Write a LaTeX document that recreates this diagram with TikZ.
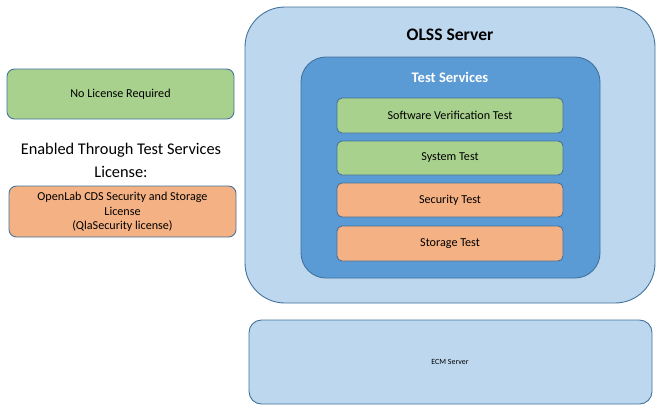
\documentclass[tikz,border=0pt]{standalone}
\usepackage{fontspec}
\setmainfont{Carlito}
\definecolor{lb}{HTML}{BDD7EE}
\definecolor{mb}{HTML}{5B9BD5}
\definecolor{bd}{HTML}{41719C}
\definecolor{gr}{HTML}{A9D18E}
\definecolor{og}{HTML}{F4B183}
\begin{document}
\begin{tikzpicture}[x=0.02cm,y=-0.02cm,
 box/.style={draw=bd,line width=0.5pt},
 t/.style={font=\fontsize{6.9}{8.2}\selectfont,align=center}]
\useasboundingbox (0,0) rectangle (661,410);
\draw[box,fill=lb,rounded corners=0.8cm] (245,7) rectangle (655,303);
\node[font=\fontsize{10}{12}\selectfont\bfseries] (olss) at (450,35) {OLSS Server};
\draw[box,fill=mb,rounded corners=0.5cm] (301,57) rectangle (600,278);
\node[font=\fontsize{8.3}{10}\selectfont\bfseries,text=white] (ts) at (450,77) {Test Services};
\draw[box,fill=gr,rounded corners=0.1cm] (337,98) rectangle (563,133);
\node[t] (svt) at (450,115.5) {Software Verification Test};
\draw[box,fill=gr,rounded corners=0.1cm] (337,141) rectangle (563,175);
\node[t] (st) at (450,158) {System Test};
\draw[box,fill=og,rounded corners=0.1cm] (337,183) rectangle (563,217);
\node[t] (sec) at (450,200) {Security Test};
\draw[box,fill=og,rounded corners=0.1cm] (337,226) rectangle (563,261);
\node[t] (sto) at (450,243.5) {Storage Test};
\draw[box,fill=lb,rounded corners=0.25cm] (249,320) rectangle (652,404);
\node[font=\fontsize{4.5}{5}\selectfont] (ecm) at (450,362) {ECM Server};
\draw[box,fill=gr,rounded corners=0.15cm] (7,69) rectangle (234,119);
\node[t] (nl) at (120.5,94) {No License Required};
\node[font=\fontsize{9.3}{13}\selectfont,align=center] (en) at (121,160.5) {Enabled Through Test Services\\License:};
\draw[box,fill=og,rounded corners=0.15cm] (9,186) rectangle (236,237);
\node[t] (ol) at (122.5,212) {OpenLab CDS Security and Storage\\License\\(QlaSecurity license)};
\end{tikzpicture}
\end{document}
